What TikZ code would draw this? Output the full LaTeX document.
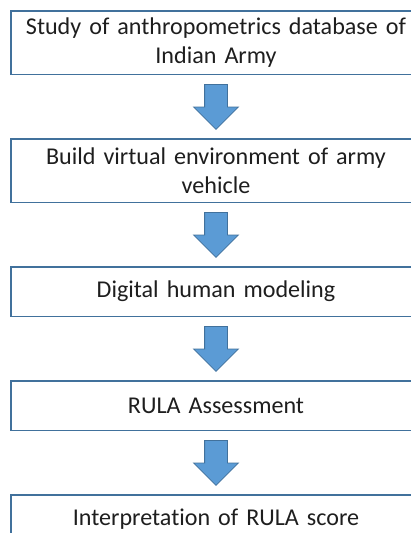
\documentclass[tikz,border=0pt]{standalone}
\usepackage{fontspec}
\setmainfont{Carlito}[Ligatures=NoCommon]
\usepackage{xcolor}
\usepackage{tikz}
\usetikzlibrary{positioning,shapes.arrows,calc}

\definecolor{boxline}{HTML}{41719C}
\definecolor{arrowfill}{HTML}{5B9BD5}
\definecolor{textcol}{HTML}{1E1E1E}

\begin{document}
\begin{tikzpicture}[
  node distance=63pt,
  block/.style={rectangle, draw=boxline, line width=1.5pt, align=center, inner sep=0pt,
    minimum width=410pt, text width=400pt, text=textcol,
    font=\fontsize{24.1pt}{28.5pt}\selectfont},
  twoline/.style={block, minimum height=63.5pt},
  oneline/.style={block, minimum height=49.5pt},
  blockarrow/.style={single arrow, draw=boxline, fill=arrowfill, line width=0.8pt,
    inner sep=11pt, minimum width=44pt, minimum height=45pt, anchor=tail,
    single arrow head extend=11pt, single arrow tip angle=90, shape border rotate=270}
]
\useasboundingbox (0,0) rectangle (411pt,-533pt);
\clip (0,0) rectangle (411pt,-533pt);

% Steps (top to bottom)
\node[twoline, anchor=north] (study) at (216pt,-10pt) {Study of anthropometrics database of\\Indian Army};
\node[twoline, below=of study] (build) {Build virtual environment of army\\vehicle};
\node[oneline, below=of build] (dhm) {Digital human modeling};
\node[oneline, below=of dhm] (rula) {RULA Assessment};
\node[oneline, below=of rula] (interp) {Interpretation of RULA score};

% Arrows
\node[blockarrow] (a1) at ($(study.south)!9pt!(build.north)$) {};
\node[blockarrow] (a2) at ($(build.south)!9pt!(dhm.north)$) {};
\node[blockarrow] (a3) at ($(dhm.south)!9pt!(rula.north)$) {};
\node[blockarrow] (a4) at ($(rula.south)!9pt!(interp.north)$) {};
\end{tikzpicture}
\end{document}
